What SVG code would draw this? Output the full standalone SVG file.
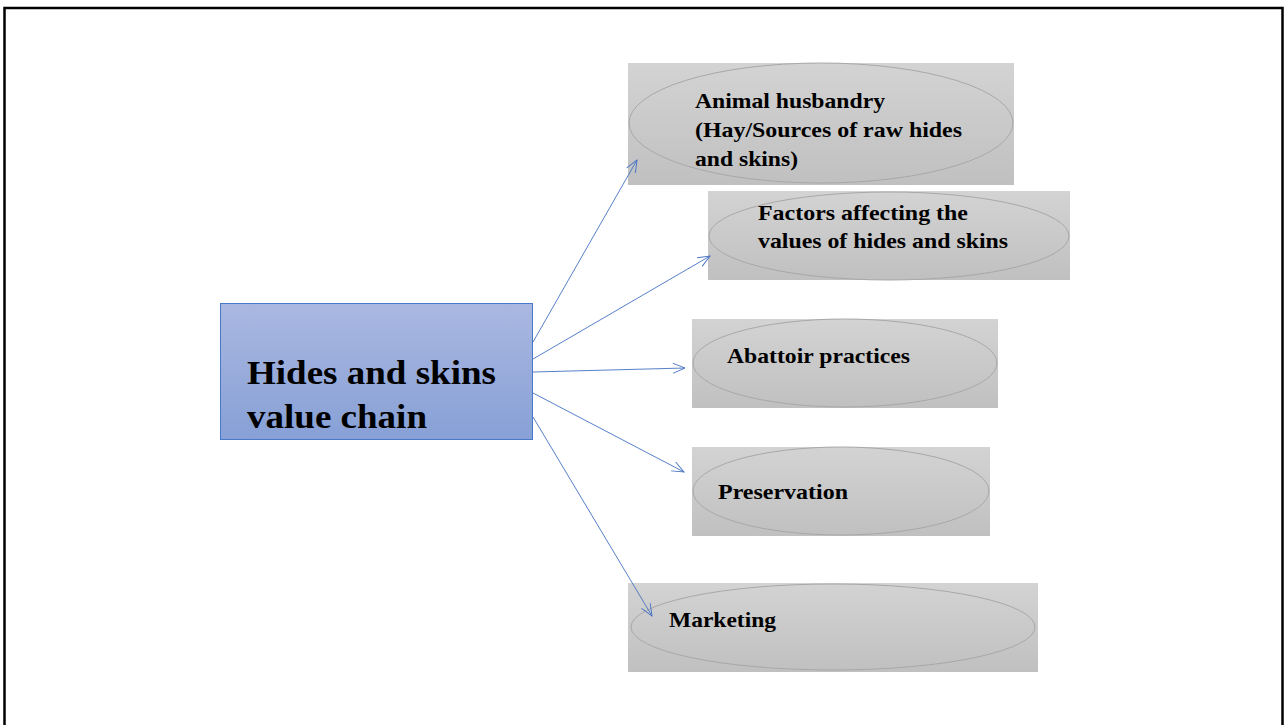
<svg xmlns="http://www.w3.org/2000/svg" width="1285" height="725" viewBox="0 0 1285 725">
<style>
.frame{fill:none;stroke:#000;stroke-width:2.5}
.box{fill:url(#gray)}
.ell{fill:none;stroke:#a8a8a8;stroke-width:1}
.lbl{font-family:"Liberation Serif","Times New Roman",serif;font-weight:bold;font-size:21px;fill:#000}
.main{font-family:"Liberation Serif","Times New Roman",serif;font-weight:bold;font-size:34px;fill:#000}
.conn{stroke:#4472c4;stroke-width:0.9;fill:none;marker-end:url(#arr)}
</style>
<defs>
<linearGradient id="gray" x1="0" y1="0" x2="0" y2="1">
<stop offset="0" stop-color="#d3d3d3"/>
<stop offset="1" stop-color="#c0c0c0"/>
</linearGradient>
<linearGradient id="blue" x1="0" y1="0" x2="0" y2="1">
<stop offset="0" stop-color="#aab8e1"/>
<stop offset="1" stop-color="#87a0d6"/>
</linearGradient>
<marker id="arr" markerWidth="14" markerHeight="12" refX="13" refY="6" orient="auto" markerUnits="userSpaceOnUse">
<path d="M1,1 L13,6 L1,11" fill="none" stroke="#4472c4" stroke-width="0.9"/>
</marker>
</defs>
<rect x="0" y="0" width="1285" height="725" fill="#fff"/>
<rect class="frame" x="4.5" y="8" width="1278" height="730"/>
<g id="center">
<rect x="220.5" y="303.5" width="312" height="136" fill="url(#blue)" stroke="#4a78c8" stroke-width="1"/>
<text class="main" x="247" y="384" textLength="249" lengthAdjust="spacingAndGlyphs">Hides and skins</text>
<text class="main" x="247" y="428" textLength="180" lengthAdjust="spacingAndGlyphs">value chain</text>
</g>
<g id="n1">
<rect class="box" x="628" y="63" width="386" height="122"/>
<ellipse class="ell" cx="821" cy="123" rx="192" ry="60"/>
<text class="lbl" x="695" y="108" textLength="190" lengthAdjust="spacingAndGlyphs">Animal husbandry</text>
<text class="lbl" x="695" y="137" textLength="267" lengthAdjust="spacingAndGlyphs">(Hay/Sources of raw hides</text>
<text class="lbl" x="695" y="166" textLength="103" lengthAdjust="spacingAndGlyphs">and skins)</text>
</g>
<g id="n2">
<rect class="box" x="708" y="191" width="362" height="89"/>
<ellipse class="ell" cx="889" cy="236" rx="180" ry="44"/>
<text class="lbl" x="758" y="220" textLength="210" lengthAdjust="spacingAndGlyphs">Factors affecting the</text>
<text class="lbl" x="758" y="248" textLength="250" lengthAdjust="spacingAndGlyphs">values of hides and skins</text>
</g>
<g id="n3">
<rect class="box" x="692" y="319" width="306" height="89"/>
<ellipse class="ell" cx="845" cy="363" rx="152" ry="44"/>
<text class="lbl" x="727" y="363" textLength="183" lengthAdjust="spacingAndGlyphs">Abattoir practices</text>
</g>
<g id="n4">
<rect class="box" x="692" y="447" width="298" height="89"/>
<ellipse class="ell" cx="841" cy="491" rx="148" ry="44"/>
<text class="lbl" x="718" y="499" textLength="130" lengthAdjust="spacingAndGlyphs">Preservation</text>
</g>
<g id="n5">
<rect class="box" x="628" y="583" width="410" height="89"/>
<ellipse class="ell" cx="833" cy="627" rx="202" ry="43"/>
<text class="lbl" x="669" y="627" textLength="107" lengthAdjust="spacingAndGlyphs">Marketing</text>
</g>
<g id="connectors">
<line class="conn" x1="533" y1="342" x2="637" y2="160"/>
<line class="conn" x1="533" y1="359" x2="710" y2="256"/>
<line class="conn" x1="533" y1="372" x2="685" y2="368"/>
<line class="conn" x1="533" y1="393" x2="684" y2="472"/>
<line class="conn" x1="533" y1="417" x2="652" y2="616"/>
</g>
</svg>
